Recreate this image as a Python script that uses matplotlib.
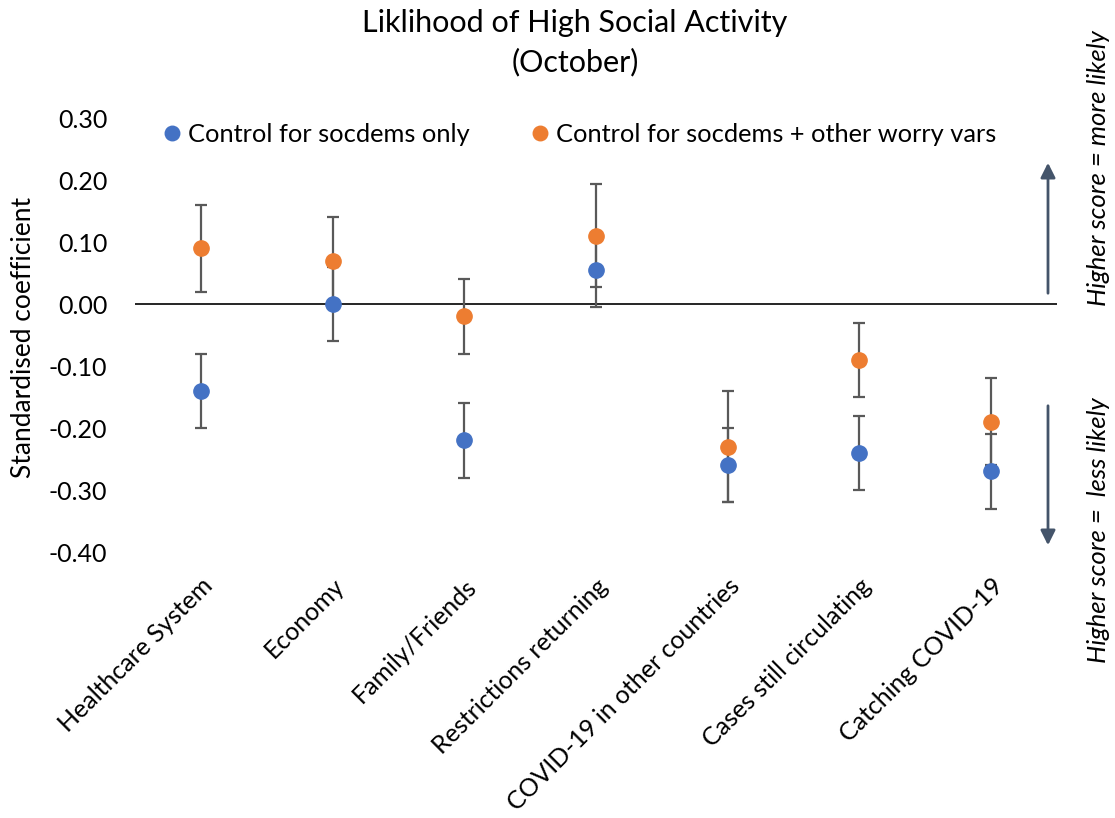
# Likelihood of high social activity - dot plot with error bars
import numpy as np
import matplotlib.pyplot as plt

plt.rcParams['font.family'] = ['Lato', 'DejaVu Sans']

# Data
categories = ['Healthcare System', 'Economy', 'Family/Friends', 'Restrictions returning',
              'COVID-19 in other countries', 'Cases still circulating', 'Catching COVID-19']
socdems = [-0.14, 0.00, -0.22, 0.055, -0.26, -0.24, -0.27]
socdems_err = [0.06, 0.06, 0.06, 0.06, 0.06, 0.06, 0.06]
worry = [0.09, 0.07, -0.02, 0.11, -0.23, -0.09, -0.19]
worry_err = [0.07, 0.07, 0.06, 0.083, 0.09, 0.06, 0.07]
yticks = [0.30, 0.20, 0.10, 0.00, -0.10, -0.20, -0.30, -0.40]

blue = '#4472C4'
orange = '#ED7D31'
W, H = 1115, 818

fig = plt.figure(figsize=(W / 100, H / 100), dpi=100)
ax = fig.add_axes([135 / W, 1 - 552 / H, 922 / W, 434 / H])

x = np.arange(len(categories))

# error bars first, dots on top
ax.errorbar(x, socdems, yerr=socdems_err, fmt='none', ecolor='#595959',
            elinewidth=1.6, capsize=4.5, capthick=1.6, zorder=2)
ax.errorbar(x, worry, yerr=worry_err, fmt='none', ecolor='#595959',
            elinewidth=1.6, capsize=4.5, capthick=1.6, zorder=2)
ax.plot(x, socdems, 'o', color=blue, markersize=11, label='Control for socdems only', zorder=3)
ax.plot(x, worry, 'o', color=orange, markersize=11,
        label='Control for socdems + other worry vars', zorder=4)

ax.axhline(0, color='black', lw=1.2, zorder=1)

ax.set_xlim(-0.5, len(categories) - 0.5)
ax.set_ylim(-0.40, 0.30)
ax.set_yticks(yticks)
ax.set_yticklabels(['%.2f' % v for v in yticks], fontsize=18)
ax.set_xticks(x)
ax.set_xticklabels(categories, rotation=45, ha='right', rotation_mode='anchor', fontsize=18)
ax.tick_params(axis='both', length=0)
ax.tick_params(axis='y', pad=20)
ax.tick_params(axis='x', pad=16)
for s in ax.spines.values():
    s.set_visible(False)

leg = ax.legend(loc='upper left', bbox_to_anchor=(150 / W, 1 - 110 / H),
                bbox_transform=fig.transFigure, ncol=2, frameon=False, fontsize=18.3,
                handlelength=0.7, handletextpad=0.3, columnspacing=2.4, borderpad=0,
                markerscale=0.95)

fig.text(575 / W, 1 - 23 / H, 'Liklihood of High Social Activity', ha='center', va='center', fontsize=22)
fig.text(575 / W, 1 - 62 / H, '(October)', ha='center', va='center', fontsize=22)
fig.text(24 / W, 1 - 337 / H, 'Standardised coefficient', rotation=90, ha='center', va='center', fontsize=19)

# arrows on the right
arrow_col = '#44546A'
ax.annotate('', xy=(1048 / W, 1 - 160 / H), xytext=(1048 / W, 1 - 296 / H),
            xycoords='figure fraction', textcoords='figure fraction',
            arrowprops=dict(arrowstyle='-|>', color=arrow_col, lw=2, mutation_scale=22))
ax.annotate('', xy=(1048 / W, 1 - 548 / H), xytext=(1048 / W, 1 - 403 / H),
            xycoords='figure fraction', textcoords='figure fraction',
            arrowprops=dict(arrowstyle='-|>', color=arrow_col, lw=2, mutation_scale=22))
fig.text(1098 / W, 1 - 168 / H, 'Higher score = more likely', rotation=90, style='italic',
         ha='center', va='center', fontsize=18.5)
fig.text(1098 / W, 1 - 530 / H, 'Higher score =  less likely', rotation=90, style='italic',
         ha='center', va='center', fontsize=18.5)

fig.savefig('out.png', dpi=100)
